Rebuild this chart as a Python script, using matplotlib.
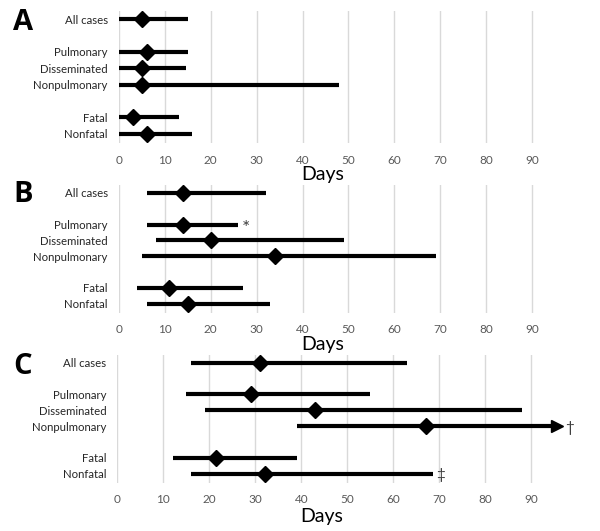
import matplotlib
matplotlib.use("Agg")
import matplotlib.pyplot as plt

categories = ["All cases", "Pulmonary", "Disseminated", "Nonpulmonary", "Fatal", "Nonfatal"]
ypos = [0, 2, 3, 4, 6, 7]

# Panel A
a_med = [5, 6, 5, 5, 3, 6]
a_lo = [0, 0, 0, 0, 0, 0]
a_hi = [15, 15, 14.5, 48, 13, 16]
# Panel B
b_med = [14, 14, 20, 34, 11, 15]
b_lo = [6, 6, 8, 5, 4, 6]
b_hi = [32, 26, 49, 69, 27, 33]
# Panel C
c_med = [31, 29, 43, 67, 21.5, 32]
c_lo = [16, 15, 19, 39, 12, 16]
c_hi = [63, 55, 88, 96.5, 39, 68.5]

xticks = [0, 10, 20, 30, 40, 50, 60, 70, 80, 90]

plt.rcParams['font.family'] = ['Lato', 'DejaVu Sans']

fig = plt.figure(figsize=(6.0, 5.31), dpi=100)

panels = [
    ("A", a_med, a_lo, a_hi, [0.1983, 0.7298, 0.765, 0.2492], {}, None, 0.9567, -0.17),
    ("B", b_med, b_lo, b_hi, [0.1983, 0.410, 0.765, 0.2418], {1: "*"}, None, 0.6328, -0.175),
    ("C", c_med, c_lo, c_hi, [0.1955, 0.090, 0.767, 0.2418], {3: "\u2020", 5: "\u2021"}, 3, 0.3107, -0.19),
]

for letter, med, lo, hi, rect, notes, arrow_idx, ly, dy in panels:
    ax = fig.add_axes(rect)
    ax.set_xlim(0, 100)
    ax.set_ylim(7.6, -0.5)
    ax.set_xticks(xticks)
    ax.set_xticklabels([str(t) for t in xticks], fontsize=8.5, color="#595959")
    ax.tick_params(axis='x', length=0, pad=8)
    ax.set_yticks(ypos)
    ax.set_yticklabels(categories, fontsize=8.2, color="#262626")
    ax.tick_params(axis='y', length=0, pad=8)
    for s in ax.spines.values():
        s.set_visible(False)
    for t in xticks:
        ax.axvline(t, color="#d9d9d9", lw=1, zorder=0)
    for i, y in enumerate(ypos):
        end = hi[i]
        if arrow_idx == i:
            ax.plot([lo[i], end - 1.5], [y, y], color="black", lw=3, solid_capstyle='butt', zorder=2)
            ax.plot([end - 1.0], [y], marker=">", color="black", markersize=8, zorder=3)
        else:
            ax.plot([lo[i], end], [y, y], color="black", lw=3, solid_capstyle='butt', zorder=2)
        ax.plot([med[i]], [y], marker="D", color="black", markersize=8, zorder=4)
        if i in notes:
            fs = 14 if notes[i] == "*" else 11
            ax.text(end + 0.8, y + (0.25 if notes[i] == "*" else 0.1), notes[i], fontsize=fs,
                    color="#404040", va="center", ha="left")
    ax.set_xlabel("Days", fontsize=14, color="black", labelpad=1)
    ax.xaxis.set_label_coords(0.444, dy)
    ax.xaxis.label.set_va("top")
    fig.text(0.038, ly, letter, fontsize=21, fontweight="bold",
             va="center", ha="center", color="black", family=['Open Sans', 'DejaVu Sans'])

fig.savefig("out.png", dpi=100)
